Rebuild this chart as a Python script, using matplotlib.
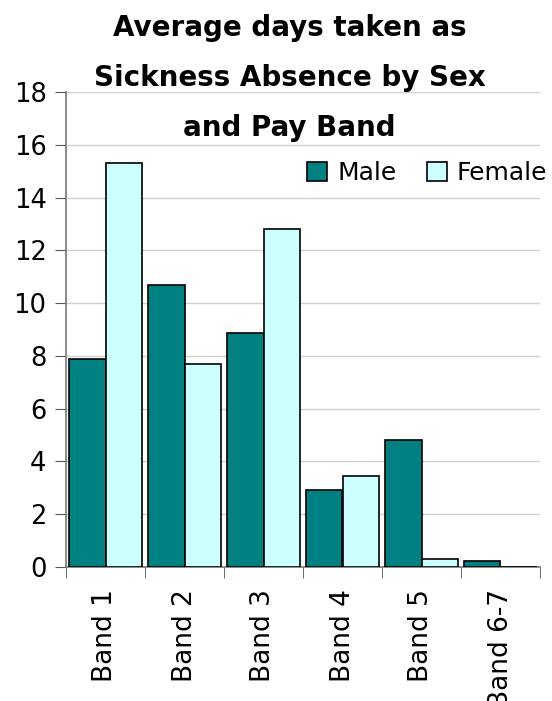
import matplotlib
matplotlib.use("Agg")
import matplotlib.pyplot as plt
import numpy as np

categories = ["Band 1", "Band 2", "Band 3", "Band 4", "Band 5", "Band 6-7"]
male = [7.9, 10.7, 8.85, 2.9, 4.8, 0.22]
female = [15.3, 7.7, 12.8, 3.45, 0.29, 0.0]
yticks = [0, 2, 4, 6, 8, 10, 12, 14, 16, 18]

plt.rcParams['font.family'] = ['DejaVu Sans']
fig = plt.figure(figsize=(5.52, 7.01), dpi=100)
ax = fig.add_axes([66/552, 1-567/701, (540-66)/552, (567-92)/701])

x = np.arange(len(categories))
w = 0.46
ax.bar(x - w/2, male, w, color="#008080", edgecolor="black", linewidth=1.2, label="Male", zorder=3)
ax.bar(x + w/2, female, w, color="#CCFFFF", edgecolor="black", linewidth=1.2, label="Female", zorder=3)

ax.set_xlim(-0.5, len(categories) - 0.5)
ax.set_ylim(0, 18)
ax.set_yticks(yticks)
ax.yaxis.grid(True, color="#d0d0d0", linewidth=1, zorder=0)
ax.tick_params(axis='y', labelsize=18.5, length=8, color="#555555", direction='out', pad=6)

ax.set_xticks(x)
ax.set_xticklabels(categories, rotation=90, fontsize=19)
ax.tick_params(axis='x', which='major', length=0, pad=16)
ax.set_xticks(np.arange(-0.5, len(categories), 1.0), minor=True)
ax.tick_params(axis='x', which='minor', length=8, color="#555555", direction='out')

for s in ['top', 'right']:
    ax.spines[s].set_visible(False)
for s in ['left', 'bottom']:
    ax.spines[s].set_color("#777777")
    ax.spines[s].set_linewidth(1.2)

leg = ax.legend(loc='upper right', bbox_to_anchor=(1.036, 0.875), ncol=2, frameon=False,
                fontsize=18, handlelength=0.8, handleheight=0.8, handletextpad=0.4,
                columnspacing=1.2, borderaxespad=0)

fig.text(0.525, 1 - 14/701, "Average days taken as\nSickness Absence by Sex\nand Pay Band",
         ha='center', va='top', fontsize=20, fontweight='bold', linespacing=2.0)

fig.savefig("out.png", dpi=100)
